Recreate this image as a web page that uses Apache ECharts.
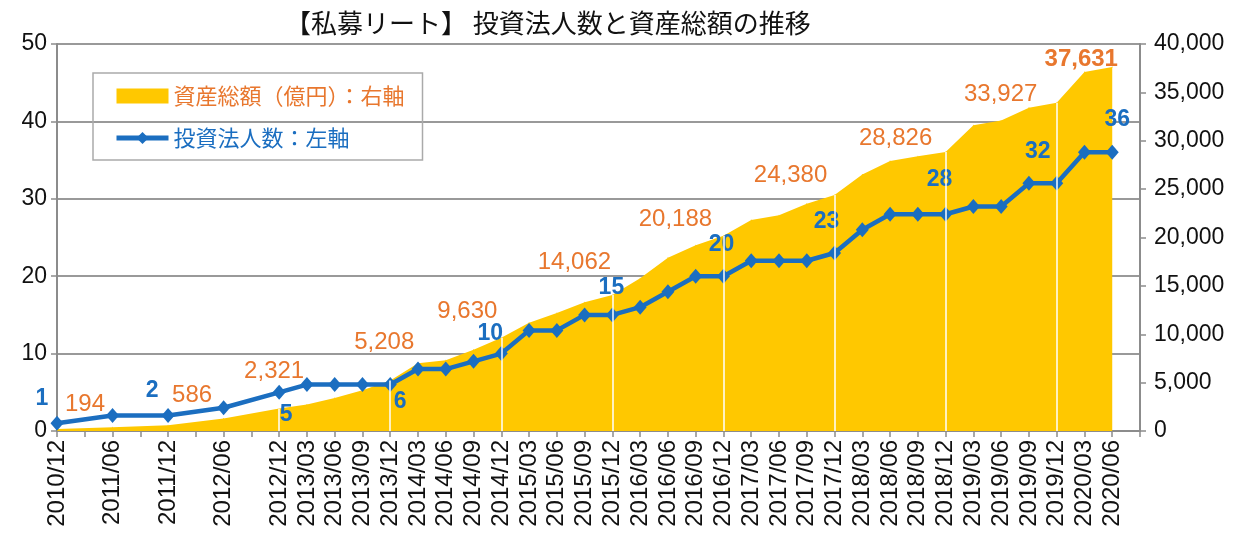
<!DOCTYPE html>
<html>
<head>
<meta charset="utf-8">
<script src="https://cdn.jsdelivr.net/npm/echarts@6/dist/echarts.min.js"></script>
<style>
html, body { margin: 0; padding: 0; background: #fff; }
#chart { width: 1247px; height: 533px; }
</style>
</head>
<body>
<div id="chart"></div>
<script>
// quarters on the x axis (unlabelled ones have no data)
var quarters = ['2010/12', '2011/03', '2011/06', '2011/09', '2011/12', '2012/03', '2012/06', '2012/09',
    '2012/12', '2013/03', '2013/06', '2013/09', '2013/12', '2014/03', '2014/06', '2014/09',
    '2014/12', '2015/03', '2015/06', '2015/09', '2015/12', '2016/03', '2016/06', '2016/09',
    '2016/12', '2017/03', '2017/06', '2017/09', '2017/12', '2018/03', '2018/06', '2018/09',
    '2018/12', '2019/03', '2019/06', '2019/09', '2019/12', '2020/03', '2020/06', '2020/09'];

// 投資法人数 (left axis)
var funds = [1, null, 2, null, 2, null, 3, null,
    5, 6, 6, 6, 6, 8, 8, 9,
    10, 13, 13, 15, 15, 16, 18, 20,
    20, 22, 22, 22, 23, 26, 28, 28,
    28, 29, 29, 32, 32, 36, 36, null];

// 資産総額 億円 (right axis)
var assets = [194, null, 400, null, 586, null, 1300, null,
    2321, 2750, 3400, 4200, 5208, 7000, 7300, 8400,
    9630, 11200, 12200, 13300, 14062, 15800, 17900, 19200,
    20188, 21800, 22300, 23500, 24380, 26500, 27900, 28400,
    28826, 31600, 32100, 33400, 33927, 37100, 37631, null];

// points that carry a value label, and year-end white lines
var labelled = [0, 4, 8, 12, 16, 20, 24, 28, 32, 36, 38];
var yearEnds = [8, 12, 16, 20, 24, 28, 32, 36];

var names = ['資産総額（億円）：右軸', '投資法人数：左軸'];

// label offsets from the point (pixels)
var fundLabelOff = {0: [-15, -25], 4: [-16, -25], 8: [7, 22], 12: [10, 17], 16: [-11, -20], 20: [-1, -27],
    24: [-2, -32], 28: [-8, -31], 32: [-6, -35], 36: [-19, -32], 38: [5, -33]};
var assetLabelOff = {0: [28, -25], 4: [24, -30], 8: [-5, -37], 12: [-6, -38], 16: [-34, -26], 20: [-38, -33],
    24: [-48, -16], 28: [-44, -20], 32: [-50, -14], 36: [-56, -8], 38: [-31, -8]};

var ORANGE = '#E8772E';
var BLUE = '#1B6EC0';
var YELLOW = '#FFC800';
var LATIN = 'Arial, "Liberation Sans", sans-serif';
var JP = '"Noto Sans CJK JP", sans-serif';

function comma(v) {
    return String(v).replace(/\B(?=(\d{3})+(?!\d))/g, ',');
}

var fundData = funds.map(function (v, i) {
    var d = {value: v};
    if (labelled.indexOf(i) >= 0) {
        d.label = {show: true, position: 'inside', offset: fundLabelOff[i], formatter: comma(v)};
    }
    return d;
});

var assetData = assets.map(function (v, i) {
    var d = {value: v};
    if (labelled.indexOf(i) >= 0) {
        d.label = {show: true, position: 'inside', offset: assetLabelOff[i], formatter: comma(v),
            fontWeight: i === 38 ? 'bold' : 'normal'};
    }
    return d;
});

var whiteLines = yearEnds.map(function (i) {
    return [{coord: [i, 0]}, {coord: [i, assets[i]]}];
});

var option = {
    animation: false,
    title: {
        text: '【私募リート】 投資法人数と資産総額の推移',
        left: 280,
        top: 5,
        textStyle: {fontFamily: JP, fontSize: 26, fontWeight: 'normal', color: '#111'}
    },
    legend: {
        left: 93,
        top: 73,
        orient: 'vertical',
        padding: [12, 18, 11, 21],
        borderColor: '#aaa',
        borderWidth: 1.5,
        itemGap: 20,
        itemWidth: 52,
        itemHeight: 15,
        textStyle: {fontFamily: JP, fontSize: 22},
        data: [
            {name: names[0], icon: 'rect', textStyle: {color: ORANGE}},
            {name: names[1], lineStyle: {width: 5}, textStyle: {color: BLUE}}
        ]
    },
    grid: {left: 57, right: 107, top: 44, bottom: 102},
    xAxis: {
        type: 'category',
        data: quarters,
        boundaryGap: false,
        axisLine: {lineStyle: {color: '#8c8c8c', width: 2}},
        axisTick: {interval: 0, length: 6, lineStyle: {color: '#8c8c8c', width: 1.5}},
        axisLabel: {
            interval: 0,
            rotate: 90,
            margin: 9,
            fontFamily: LATIN,
            fontSize: 24,
            color: '#111',
            formatter: function (v, i) { return funds[i] == null ? '' : v; }
        }
    },
    yAxis: [{
        type: 'value',
        min: 0, max: 50, interval: 10,
        axisLine: {show: true, lineStyle: {color: '#8c8c8c', width: 2}},
        axisTick: {show: true, length: 6, lineStyle: {color: '#8c8c8c', width: 1.5}},
        axisLabel: {fontFamily: LATIN, fontSize: 23, color: '#111', margin: 10},
        splitLine: {lineStyle: {color: '#999', width: 2}}
    }, {
        type: 'value',
        min: 0, max: 40000, interval: 5000,
        axisLine: {show: true, lineStyle: {color: '#8c8c8c', width: 2}},
        axisTick: {show: true, length: 6, lineStyle: {color: '#8c8c8c', width: 1.5}},
        axisLabel: {fontFamily: LATIN, fontSize: 23, color: '#111', margin: 14, formatter: comma},
        splitLine: {show: false}
    }],
    series: [{
        name: names[0],
        type: 'line',
        yAxisIndex: 1,
        data: assetData,
        connectNulls: true,
        symbol: 'circle',
        symbolSize: 1,
        itemStyle: {color: YELLOW},
        lineStyle: {width: 0, color: YELLOW},
        areaStyle: {color: YELLOW, opacity: 1},
        label: {color: ORANGE, fontFamily: LATIN, fontSize: 24},
        markLine: {
            silent: true,
            symbol: 'none',
            label: {show: false},
            lineStyle: {color: '#fff', width: 1.5, type: 'solid'},
            data: whiteLines
        },
        z: 2
    }, {
        name: names[1],
        type: 'line',
        yAxisIndex: 0,
        data: fundData,
        connectNulls: true,
        symbol: 'diamond',
        symbolSize: [13, 15],
        itemStyle: {color: BLUE},
        lineStyle: {width: 4.5, color: BLUE},
        label: {color: BLUE, fontFamily: LATIN, fontSize: 23, fontWeight: 'bold'},
        z: 4
    }]
};

var myChart = echarts.init(document.getElementById('chart'));
myChart.setOption(option);
</script>
</body>
</html>
